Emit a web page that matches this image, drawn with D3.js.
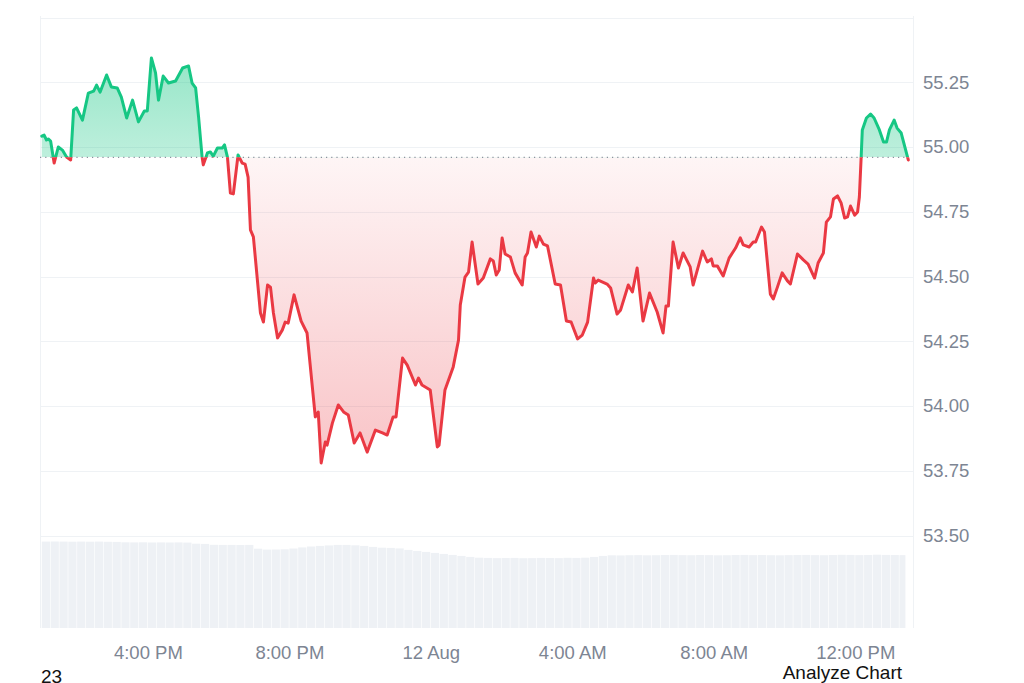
<!DOCTYPE html>
<html>
<head>
<meta charset="utf-8">
<script src="https://cdn.jsdelivr.net/npm/d3@7"></script>
<style>
  html, body { margin: 0; padding: 0; background: #fff; }
  svg { display: block; }
  text { font-family: "Liberation Sans", Arial, sans-serif; }
</style>
</head>
<body>
<svg id="chart" width="1024" height="683"></svg>
<script>
// ---- data ----
const times = ["11 13:00","11 13:04","11 13:08","11 13:11","11 13:15","11 13:21","11 13:28","11 13:35","11 13:42","11 13:49",
"11 13:54","11 13:59","11 14:09","11 14:19","11 14:28","11 14:33","11 14:39","11 14:50","11 14:58","11 15:08",
"11 15:15","11 15:24","11 15:34","11 15:44","11 15:54","11 15:59","11 16:06","11 16:13","11 16:18","11 16:26",
"11 16:35","11 16:47","11 16:59","11 17:09","11 17:15","11 17:21","11 17:26","11 17:32","11 17:34","11 17:41",
"11 17:46","11 17:51","11 17:58","11 18:06","11 18:10","11 18:15","11 18:20","11 18:25","11 18:33","11 18:40",
"11 18:45","11 18:50","11 18:54","11 18:59","11 19:11","11 19:16","11 19:23","11 19:28","11 19:33","11 19:40",
"11 19:48","11 19:53","11 19:58","11 20:08","11 20:20","11 20:30","11 20:44","11 20:49","11 20:54","11 21:01",
"11 21:04","11 21:13","11 21:23","11 21:32","11 21:40","11 21:50","11 22:00","11 22:12","11 22:26","11 22:38",
"11 22:46","11 22:56","11 23:01","11 23:12","11 23:20","11 23:34","11 23:39","11 23:45","11 23:59","12 00:11",
"12 00:14","12 00:24","12 00:38","12 00:47","12 00:50","12 00:58","12 01:04","12 01:10","12 01:20","12 01:29",
"12 01:41","12 01:46","12 01:51","12 01:56","12 02:01","12 02:06","12 02:15","12 02:23","12 02:35","12 02:40",
"12 02:44","12 02:50","12 02:59","12 03:04","12 03:11","12 03:18","12 03:31","12 03:40","12 03:50","12 03:58",
"12 04:09","12 04:17","12 04:26","12 04:36","12 04:39","12 04:44","12 04:59","12 05:05","12 05:16","12 05:22",
"12 05:35","12 05:42","12 05:50","12 06:00","12 06:11","12 06:24","12 06:34","12 06:39","12 06:43","12 06:51",
"12 07:00","12 07:08","12 07:20","12 07:25","12 07:41","12 07:49","12 07:56","12 07:59","12 08:06","12 08:16",
"12 08:26","12 08:37","12 08:45","12 08:50","12 09:00","12 09:07","12 09:11","12 09:21","12 09:26","12 09:36",
"12 09:41","12 09:48","12 09:56","12 10:05","12 10:10","12 10:22","12 10:32","12 10:40","12 10:51","12 10:57",
"12 11:06","12 11:11","12 11:18","12 11:23","12 11:30","12 11:36","12 11:42","12 11:47","12 11:52","12 11:59",
"12 12:04","12 12:07","12 12:10","12 12:12","12 12:19","12 12:26","12 12:32","12 12:41","12 12:48","12 12:53",
"12 12:58","12 13:06","12 13:11","12 13:18","12 13:30"];

const prices = [55.042,55.046,55.027,55.031,55.023,54.938,55.000,54.988,54.961,54.950,
55.143,55.151,55.104,55.208,55.216,55.239,55.212,55.278,55.232,55.228,
55.193,55.112,55.181,55.097,55.139,55.139,55.344,55.286,55.181,55.274,
55.247,55.255,55.305,55.313,55.247,55.228,55.116,54.961,54.931,54.977,
54.981,54.965,54.996,54.996,55.008,54.961,54.822,54.819,54.969,54.938,
54.934,54.884,54.680,54.653,54.359,54.324,54.467,54.459,54.359,54.263,
54.293,54.324,54.320,54.429,54.328,54.282,53.958,53.977,53.780,53.861,
53.849,53.934,54.004,53.977,53.965,53.857,53.896,53.822,53.907,53.896,
53.888,53.958,53.958,54.185,54.158,54.081,54.108,54.081,54.062,53.842,
53.849,54.062,54.151,54.255,54.390,54.498,54.517,54.633,54.471,54.494,
54.568,54.560,54.506,54.525,54.649,54.587,54.575,54.514,54.467,54.575,
54.591,54.672,54.614,54.656,54.625,54.618,54.471,54.467,54.328,54.324,
54.259,54.274,54.324,54.494,54.475,54.486,54.471,54.456,54.355,54.371,
54.467,54.440,54.533,54.328,54.436,54.363,54.282,54.386,54.386,54.633,
54.533,54.591,54.537,54.467,54.598,54.556,54.568,54.541,54.541,54.502,
54.571,54.610,54.649,54.622,54.614,54.633,54.633,54.691,54.672,54.432,
54.413,54.459,54.514,54.483,54.471,54.587,54.564,54.548,54.494,54.552,
54.591,54.710,54.730,54.799,54.811,54.784,54.726,54.730,54.772,54.737,
54.749,54.807,54.958,55.066,55.112,55.127,55.112,55.066,55.019,55.019,
55.066,55.104,55.073,55.054,54.950];

const baselinePrice = 54.96;

// volume per 15 minutes, starting 11 Aug 13:00 (relative units)
const volumeStart = "11 13:00";
const volumes = [86.3,86.4,86.3,86.2,86.3,86.2,86.3,86.1,86.0,85.6,
85.5,85.6,85.4,85.5,85.4,85.5,85.3,84.2,84.0,83.1,
83.0,83.0,82.9,83.0,79.2,78.3,78.4,78.6,79.4,80.5,
81.4,82.0,82.5,83.0,83.0,82.6,82.0,81.0,80.2,80.0,
79.5,78.0,77.0,76.0,75.0,74.0,73.0,72.0,71.0,70.2,
70.0,69.8,69.9,70.0,69.7,69.8,70.0,69.9,69.8,70.1,
70.0,70.2,71.0,72.0,72.6,72.5,72.7,72.8,72.6,72.7,
72.9,73.0,72.8,72.7,72.9,72.8,72.6,72.7,72.9,73.0,
72.8,72.9,72.7,72.6,72.8,72.9,73.0,72.8,72.7,72.9,
73.1,73.0,72.8,72.9,73.2,73.0,72.9,72.8];

const yTicks = [53.50,53.75,54.00,54.25,54.50,54.75,55.00,55.25];
const gridValues = [53.50,53.75,54.00,54.25,54.50,54.75,55.00,55.25,55.50];
const xTickTimes = ["11 16:00","11 20:00","12 00:00","12 04:00","12 08:00","12 12:00"];
const xTickLabels = ["4:00 PM","8:00 PM","12 Aug","4:00 AM","8:00 AM","12:00 PM"];
const xDomain = ["11 12:57","12 13:38"];

// ---- setup ----
const parse = s => d3.timeParse("%Y-%m-%d %H:%M")("2024-08-" + s);
const data = times.map((t, i) => ({ t: parse(t), v: prices[i] }));

const svg = d3.select("#chart");
const plotL = 40, plotR = 913, plotT = 16, plotB = 628;

const x = d3.scaleTime().domain(xDomain.map(parse)).range([plotL, plotR]);
const y = d3.scaleLinear().domain([53.5, 55.5]).range([535.5, 17.5]);
const vScale = d3.scaleLinear().domain([0, d3.max(volumes)]).range([plotB, 541.5]);

const GREEN = "#16c784", RED = "#ea3943";
const by = y(baselinePrice);

const defs = svg.append("defs");
const gG = defs.append("linearGradient").attr("id", "gGreen")
  .attr("gradientUnits", "userSpaceOnUse").attr("x1", 0).attr("x2", 0)
  .attr("y1", y(d3.max(prices))).attr("y2", by);
gG.append("stop").attr("offset", "0%").attr("stop-color", GREEN).attr("stop-opacity", 0.45);
gG.append("stop").attr("offset", "100%").attr("stop-color", GREEN).attr("stop-opacity", 0.28);
const gR = defs.append("linearGradient").attr("id", "gRed")
  .attr("gradientUnits", "userSpaceOnUse").attr("x1", 0).attr("x2", 0)
  .attr("y1", by).attr("y2", y(d3.min(prices)));
gR.append("stop").attr("offset", "0%").attr("stop-color", RED).attr("stop-opacity", 0.05);
gR.append("stop").attr("offset", "100%").attr("stop-color", RED).attr("stop-opacity", 0.3);

defs.append("clipPath").attr("id", "clipAbove").append("rect")
  .attr("x", plotL).attr("y", 0).attr("width", plotR - plotL).attr("height", by);
defs.append("clipPath").attr("id", "clipBelow").append("rect")
  .attr("x", plotL).attr("y", by).attr("width", plotR - plotL).attr("height", plotB - by);

// gridlines
svg.append("g").selectAll("line").data(gridValues).join("line")
  .attr("x1", plotL).attr("x2", plotR)
  .attr("y1", d => Math.round(y(d)) + 0.5).attr("y2", d => Math.round(y(d)) + 0.5)
  .attr("stroke", "#eff2f5").attr("stroke-width", 1);

// frame verticals
[plotL, plotR].forEach(px => {
  svg.append("line").attr("x1", px + 0.5).attr("x2", px + 0.5)
    .attr("y1", plotT).attr("y2", plotB).attr("stroke", "#eff2f5");
});

// volume bars
const v0 = parse(volumeStart);
const vData = volumes.map((v, i) => ({ t: d3.timeMinute.offset(v0, 15 * i), v }));
svg.append("g").selectAll("rect").data(vData).join("rect")
  .attr("x", d => x(d.t))
  .attr("width", d => Math.max(0, Math.min(x(d3.timeMinute.offset(d.t, 15)), 906) - x(d.t) - 0.6))
  .attr("y", d => vScale(d.v))
  .attr("height", d => plotB - vScale(d.v))
  .attr("fill", "#eef1f5");

// areas
const area = d3.area().x(d => x(d.t)).y0(by).y1(d => y(d.v));
svg.append("path").datum(data).attr("d", area).attr("fill", "url(#gGreen)").attr("clip-path", "url(#clipAbove)");
svg.append("path").datum(data).attr("d", area).attr("fill", "url(#gRed)").attr("clip-path", "url(#clipBelow)");

// baseline dotted
svg.append("line").attr("x1", plotL).attr("x2", x(data[data.length - 1].t))
  .attr("y1", by).attr("y2", by)
  .attr("stroke", "#8a929e").attr("stroke-width", 1.2).attr("stroke-dasharray", "1.2,4");

// lines
const line = d3.line().x(d => x(d.t)).y(d => y(d.v));
svg.append("path").datum(data).attr("d", line).attr("fill", "none").attr("stroke", GREEN)
  .attr("stroke-width", 3).attr("stroke-linejoin", "round").attr("stroke-linecap", "round")
  .attr("clip-path", "url(#clipAbove)");
svg.append("path").datum(data).attr("d", line).attr("fill", "none").attr("stroke", RED)
  .attr("stroke-width", 3).attr("stroke-linejoin", "round").attr("stroke-linecap", "round")
  .attr("clip-path", "url(#clipBelow)");

// y axis labels
const yAxis = d3.axisRight(y).tickValues(yTicks).tickFormat(d3.format(".2f")).tickSize(0).tickPadding(0);
const gy = svg.append("g").attr("transform", `translate(${plotR + 10},0)`).call(yAxis);
gy.select(".domain").remove();
gy.selectAll("text").attr("font-size", 18.5).attr("fill", "#7d8593")
  .attr("font-family", "Liberation Sans, Arial, sans-serif");

// x axis labels
const xAxis = d3.axisBottom(x).tickValues(xTickTimes.map(parse))
  .tickFormat((d, i) => xTickLabels[i]).tickSize(0).tickPadding(0);
const gx = svg.append("g").attr("transform", `translate(0,${646})`).call(xAxis);
gx.select(".domain").remove();
gx.selectAll("text").attr("font-size", 18.5).attr("fill", "#7d8593")
  .attr("font-family", "Liberation Sans, Arial, sans-serif");

// footer texts
svg.append("text").attr("x", 41).attr("y", 683).attr("font-size", 19).attr("fill", "#111").text("23");
svg.append("text").attr("x", 902).attr("y", 679).attr("text-anchor", "end")
  .attr("font-size", 19).attr("fill", "#111").text("Analyze Chart");
</script>
</body>
</html>
